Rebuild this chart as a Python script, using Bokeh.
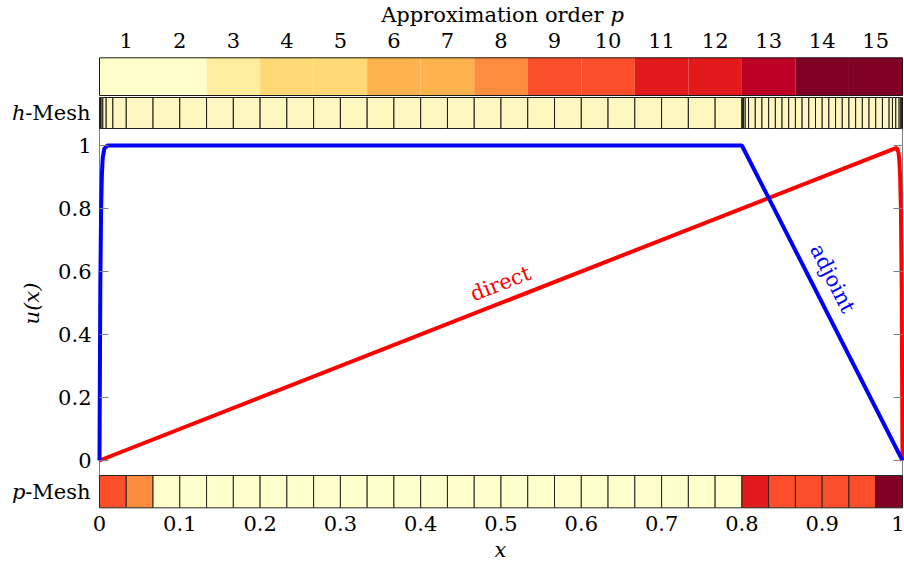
import math
from bokeh.plotting import figure
from bokeh.models import (Range1d, LinearAxis, FixedTicker, NumeralTickFormatter,
                          Label, CustomJSTickFormatter)
from bokeh.embed import file_html
from bokeh.resources import INLINE

# ---------------- data ----------------
orders = [1, 2, 3, 4, 5, 6, 7, 8, 9, 10, 11, 12, 13, 14, 15]
order_colors = ["#ffffcc", "#ffffcc", "#ffeda0", "#fed976", "#fed976",
                "#feb24c", "#feb24c", "#fd8d3c", "#fc4e2a", "#fc4e2a",
                "#e31a1c", "#e31a1c", "#bd0026", "#800026", "#800026"]

h_mesh_nodes = [0.0, 0.00052, 0.00104, 0.00208, 0.00417, 0.00833, 0.01667,
                0.03333, 0.06667, 0.1, 0.13333, 0.16667, 0.2, 0.23333, 0.26667,
                0.3, 0.33333, 0.36667, 0.4, 0.43333, 0.46667, 0.5, 0.53333,
                0.56667, 0.6, 0.63333, 0.66667, 0.7, 0.73333, 0.76667, 0.8,
                0.80104, 0.80208, 0.80417, 0.80833, 0.81667, 0.825, 0.83333,
                0.84167, 0.85, 0.85833, 0.86667, 0.875, 0.88333, 0.89167, 0.9,
                0.90833, 0.91667, 0.925, 0.93333, 0.94167, 0.95, 0.95833,
                0.96667, 0.975, 0.98333, 0.9875, 0.99167, 0.99583, 0.99792,
                0.99896, 1.0]

p_mesh_edges = [0.0, 0.03333, 0.06667, 0.1, 0.13333, 0.16667, 0.2, 0.23333,
                0.26667, 0.3, 0.33333, 0.36667, 0.4, 0.43333, 0.46667, 0.5,
                0.53333, 0.56667, 0.6, 0.63333, 0.66667, 0.7, 0.73333, 0.76667,
                0.8, 0.83333, 0.86667, 0.9, 0.93333, 0.96667, 1.0]
p_mesh_orders = [10, 8, 2, 2, 2, 2, 2, 2, 2, 2, 2, 2, 2, 2, 2, 2, 2, 2, 2, 2,
                 2, 2, 2, 2, 12, 10, 10, 10, 10, 15]

direct_x = [0.0, 0.990, 0.993, 0.995, 0.996, 0.997, 0.998, 0.999, 1.0]
direct_u = [0.0, 0.990, 0.992, 0.978, 0.955, 0.905, 0.80, 0.55, 0.0]

adjoint_x = [0.0, 0.001, 0.002, 0.003, 0.004, 0.006, 0.010, 0.800, 1.0]
adjoint_u = [0.0, 0.55, 0.80, 0.91, 0.96, 0.99, 1.0, 1.0, 0.0]

x_ticks = [0, 0.1, 0.2, 0.3, 0.4, 0.5, 0.6, 0.7, 0.8, 0.9, 1]
u_ticks = [0, 0.2, 0.4, 0.6, 0.8, 1]

# ---------------- layout constants ----------------
W, H = 904, 563
X0_PX, U0_PX = 99.0, 460.0   # page position of x=0 and u=0
PX = 803.0                   # pixels per unit x
PY = 315.0                   # pixels per unit u
CB_TOP, CB_BOT = 1.2784, 1.1587       # colour bar strip
HM_TOP, HM_BOT = 1.1524, 1.0540       # h-mesh strip
PM_TOP, PM_BOT = -0.0476, -0.1502     # p-mesh strip
FONT = "DejaVu Serif"
FS = "21px"
GREY = "#808080"

def px_x(px):
    return (px - X0_PX) / PX

def px_u(py):
    return (U0_PX - py) / PY

p = figure(width=W, height=H, output_backend="svg", toolbar_location=None,
           x_range=Range1d(px_x(0), px_x(W)),
           y_range=Range1d(px_u(H), px_u(0)),
           min_border=0, min_border_left=0, min_border_right=0,
           min_border_top=0, min_border_bottom=0)
p.outline_line_color = None
p.xgrid.visible = False
p.ygrid.visible = False
p.background_fill_color = "white"
p.border_fill_color = "white"

# colour-bar coordinates: order k occupies [k-0.5, k+0.5] across x in [0, 1]
p.extra_x_ranges = {"p": Range1d(0.5 + 15 * px_x(0), 0.5 + 15 * px_x(W))}

# ---------------- axes ----------------
xa = p.xaxis[0]
xa.fixed_location = PM_BOT
xa.ticker = FixedTicker(ticks=x_ticks)
xa.formatter = NumeralTickFormatter(format="0.[0]")
xa.axis_line_color = None
xa.major_tick_line_color = None
xa.minor_tick_line_color = None
xa.major_label_text_font = FONT
xa.major_label_text_font_size = FS
xa.major_label_text_color = "black"
xa.major_label_standoff = 2

ya = p.yaxis[0]
ya.fixed_location = 0.0
ya.ticker = FixedTicker(ticks=u_ticks)
ya.formatter = NumeralTickFormatter(format="0.[0]")
ya.axis_line_color = None
ya.major_tick_in = 9
ya.major_tick_out = 0
ya.major_tick_line_color = GREY
ya.minor_tick_line_color = None
ya.major_label_text_font = FONT
ya.major_label_text_font_size = FS
ya.major_label_text_color = "black"
ya.major_label_standoff = 8

# right-hand ticks (drawn at x = 1, pointing into the box)
ya2 = LinearAxis(fixed_location=1.0, ticker=FixedTicker(ticks=u_ticks),
                 formatter=CustomJSTickFormatter(code="return ''"),
                 axis_line_color=None, major_tick_in=0, major_tick_out=9,
                 major_tick_line_color=GREY, minor_tick_line_color=None,
                 major_label_standoff=0)
p.add_layout(ya2, "left")

top_axis = LinearAxis(x_range_name="p", fixed_location=CB_TOP,
                      ticker=FixedTicker(ticks=orders),
                      axis_line_color=None, major_tick_line_color=None,
                      minor_tick_line_color=None,
                      major_label_text_font=FONT, major_label_text_font_size=FS,
                      major_label_text_color="black", major_label_standoff=4)
p.add_layout(top_axis, "above")

# ---------------- main box ----------------
p.quad(left=0, right=1, bottom=PM_TOP, top=HM_BOT, fill_color=None,
       line_color=GREY, line_width=1)

# ---------------- curves ----------------
p.line(direct_x, direct_u, line_color="#ff0000", line_width=4)
p.line(adjoint_x, adjoint_u, line_color="#0000ff", line_width=4)

# ---------------- colour bar ----------------
p.quad(left=[o - 0.5 for o in orders], right=[o + 0.5 for o in orders],
       bottom=CB_BOT, top=CB_TOP, fill_color=order_colors, line_color=None,
       x_range_name="p")
p.quad(left=orders[0] - 0.5, right=orders[-1] + 0.5, bottom=CB_BOT, top=CB_TOP,
       fill_color=None, line_color="#1a1a1a", line_width=1, x_range_name="p")

# ---------------- h-mesh ----------------
p.quad(left=h_mesh_nodes[:-1], right=h_mesh_nodes[1:], bottom=HM_BOT, top=HM_TOP,
       fill_color="#fff7c0", line_color="#1a1a1a", line_width=1)

# ---------------- p-mesh ----------------
p.quad(left=p_mesh_edges[:-1], right=p_mesh_edges[1:], bottom=PM_BOT, top=PM_TOP,
       fill_color=[order_colors[o - 1] for o in p_mesh_orders],
       line_color="#262626", line_width=1)

# ---------------- texts ----------------
def lab(text, x, y, **kw):
    opts = dict(text_font=FONT, text_font_size=FS, text_color="black",
                text_align="center", text_baseline="middle")
    opts.update(kw)
    p.add_layout(Label(x=x, y=y, text=text, **opts))

lab("direct", px_x(500), px_u(283), text_color="#ff0000",
    angle=math.atan(PY / PX))
lab("adjoint", px_x(832), px_u(278), text_color="#0000ff",
    angle=-math.atan(PY / (PX * 0.2)))

lab("x", px_x(500), px_u(549), text_font_style="italic")
lab("u(x)", px_x(31), px_u(303), text_font_style="italic", angle=math.pi / 2)

lab("Approximation order", px_x(603), px_u(14), text_align="right")
lab("p", px_x(603), px_u(14), text_align="left",
    text_font_style="italic", x_offset=7)

hm_mid = 0.5 * (HM_TOP + HM_BOT)
pm_mid = 0.5 * (PM_TOP + PM_BOT)
lab("-Mesh", px_x(90), hm_mid, text_align="right")
lab("h", px_x(90), hm_mid, text_align="right", x_offset=-65,
    text_font_style="italic")
lab("-Mesh", px_x(90), pm_mid, text_align="right")
lab("p", px_x(90), pm_mid, text_align="right", x_offset=-65,
    text_font_style="italic")

open("out.html", "w").write(file_html(p, INLINE))
